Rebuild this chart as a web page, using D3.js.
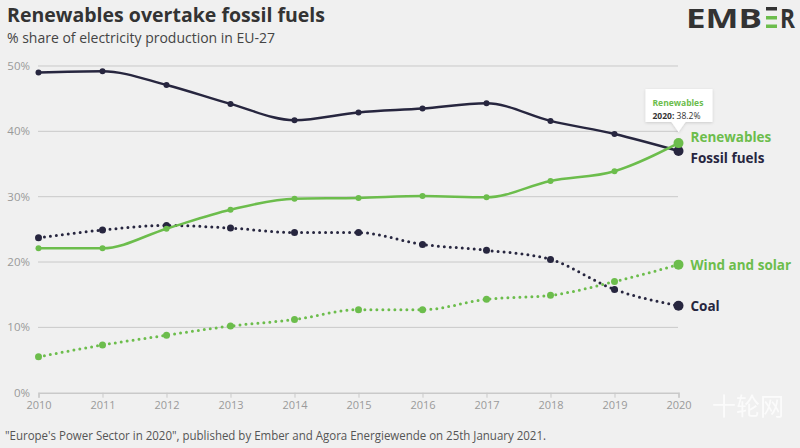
<!DOCTYPE html>
<html><head><meta charset="utf-8">
<script src="https://cdn.jsdelivr.net/npm/d3@7/dist/d3.min.js"></script>
<style>
html,body{margin:0;padding:0;background:#f0f0f0;}
svg{display:block;font-family:"Open Sans",sans-serif;}
</style></head>
<body><svg id="c" width="800" height="448"></svg>
<script>
const years = [2010,2011,2012,2013,2014,2015,2016,2017,2018,2019,2020];
const fossil = [49.0,49.2,47.1,44.2,41.7,42.9,43.5,44.3,41.6,39.6,37.0];
const renewables = [22.1,22.1,25.1,28.0,29.7,29.8,30.1,29.9,32.4,33.9,38.2];
const coal = [23.7,24.9,25.6,25.2,24.5,24.5,22.7,21.8,20.4,15.8,13.3];
const windSolar = [5.5,7.3,8.8,10.2,11.2,12.7,12.7,14.3,14.9,17.0,19.6];
const yTicks = [0,10,20,30,40,50];
const seriesNames = ["Renewables","Fossil fuels","Wind and solar","Coal"];

const dark = "#27263f", green = "#6cbd4c";
const svg = d3.select("#c");
const x = d3.scaleLinear().domain([2010,2020]).range([38.5,678.5]);
const y = d3.scaleLinear().domain([0,50]).range([392.7,66]);

// gridlines
svg.append("g").selectAll("line").data(yTicks.filter(d=>d>0)).join("line")
  .attr("x1",38).attr("x2",678).attr("y1",d=>y(d)).attr("y2",d=>y(d))
  .attr("stroke","#c9c9c9").attr("stroke-width",1);
// y labels
svg.append("g").selectAll("text").data(yTicks).join("text")
  .attr("x",30).attr("y",d=>y(d)+4).attr("text-anchor","end")
  .attr("font-size",11.5).attr("fill","#9a9a9a").text(d=>d+"%");
// x axis
const xa = svg.append("g").attr("transform","translate(0,392.7)")
  .call(d3.axisBottom(x).tickValues(years).tickFormat(d3.format("d")).tickSize(5).tickPadding(4));
xa.select(".domain").attr("stroke","#c9c9c9").attr("stroke-width",1.5);
xa.selectAll(".tick line").attr("stroke","#c9c9c9");
xa.selectAll("text").attr("fill","#9a9a9a").attr("font-size",11).attr("font-family","'Open Sans',sans-serif");

const line = d3.line().x((d,i)=>x(years[i])).y(d=>y(d)).curve(d3.curveMonotoneX);
function drawSeries(vals,color,dotted){
  svg.append("path").attr("d",line(vals)).attr("fill","none").attr("stroke",color)
    .attr("stroke-width",dotted?3:2.5).attr("stroke-linecap","round")
    .attr("stroke-dasharray",dotted?"0 6":null);
  svg.append("g").selectAll("circle").data(vals).join("circle")
    .attr("cx",(d,i)=>x(years[i])).attr("cy",d=>y(d))
    .attr("r",(d,i)=>i===vals.length-1?5:(dotted?3.5:3)).attr("fill",color);
}
drawSeries(coal,dark,true);
drawSeries(windSolar,green,true);
drawSeries(fossil,dark,false);
drawSeries(renewables,green,false);

// end labels
const lastX = x(2020)+12;
const lab = [
  {t:seriesNames[0],v:renewables[10],c:green,dy:-1},
  {t:seriesNames[1],v:fossil[10],c:dark,dy:12},
  {t:seriesNames[2],v:windSolar[10],c:green,dy:5},
  {t:seriesNames[3],v:coal[10],c:dark,dy:5}
];
svg.append("g").selectAll("text").data(lab).join("text")
  .attr("x",lastX).attr("y",d=>y(d.v)+d.dy).attr("font-size",13.5).attr("font-weight",700)
  .attr("fill",d=>d.c).text(d=>d.t);

// tooltip
const defs = svg.append("defs");
const f = defs.append("filter").attr("id","sh").attr("x","-20%").attr("y","-20%").attr("width","140%").attr("height","150%");
f.append("feDropShadow").attr("dx",0).attr("dy",1).attr("stdDeviation",1.5).attr("flood-color","#000").attr("flood-opacity",0.15);
const tx = x(2020), ty = y(renewables[10]);
const tt = svg.append("g");
tt.append("path").attr("filter","url(#sh)")
  .attr("d",`M${tx-33},${ty-54} H${tx+34} V${ty-21} H${tx+7} L${tx},${ty-11} L${tx-7},${ty-21} H${tx-33} Z`)
  .attr("fill","#fff");
tt.append("text").attr("x",tx-26).attr("y",ty-37).attr("font-size",8.5).attr("font-weight",700)
  .attr("fill",green).text("Renewables");
const t2 = tt.append("text").attr("x",tx-26).attr("y",ty-24.5).attr("font-size",8.5).attr("fill","#333");
t2.append("tspan").attr("font-weight",700).text(years[10]+": ");
t2.append("tspan").text(renewables[10]+"%");

// title, subtitle
svg.append("text").attr("x",7).attr("y",22).attr("font-size",20).attr("font-weight",700)
  .attr("fill","#333").attr("textLength",318).attr("lengthAdjust","spacingAndGlyphs")
  .text("Renewables overtake fossil fuels");
svg.append("text").attr("x",7).attr("y",43).attr("font-size",14).attr("fill","#444")
  .attr("textLength",268).attr("lengthAdjust","spacingAndGlyphs")
  .text("% share of electricity production in EU-27");
svg.append("text").attr("x",5).attr("y",440).attr("font-size",12.5).attr("fill","#555")
  .attr("textLength",541).attr("lengthAdjust","spacingAndGlyphs")
  .text("\"Europe's Power Sector in 2020\", published by Ember and Agora Energiewende on 25th January 2021.");

// logo
const lg = svg.append("g");
lg.append("text").attr("x",686).attr("y",28).attr("font-size",27).attr("font-weight",700)
  .attr("fill","#333").attr("textLength",76).attr("lengthAdjust","spacingAndGlyphs").text("EMB");
lg.append("rect").attr("x",766).attr("y",7).attr("width",11).attr("height",3.5).attr("fill","#333");
lg.append("rect").attr("x",766).attr("y",16).attr("width",11).attr("height",3.5).attr("fill",green);
lg.append("rect").attr("x",766).attr("y",24.5).attr("width",11).attr("height",3.5).attr("fill",green);
lg.append("text").attr("x",780).attr("y",28).attr("font-size",27).attr("font-weight",700)
  .attr("fill","#333").attr("textLength",15).attr("lengthAdjust","spacingAndGlyphs").text("R");

// watermark
svg.append("text").attr("x",712).attr("y",415).attr("font-size",24)
  .attr("font-family","'Noto Sans CJK SC',sans-serif").attr("fill","#ffffff").attr("opacity",0.75)
  .text("十轮网");
</script></body></html>
